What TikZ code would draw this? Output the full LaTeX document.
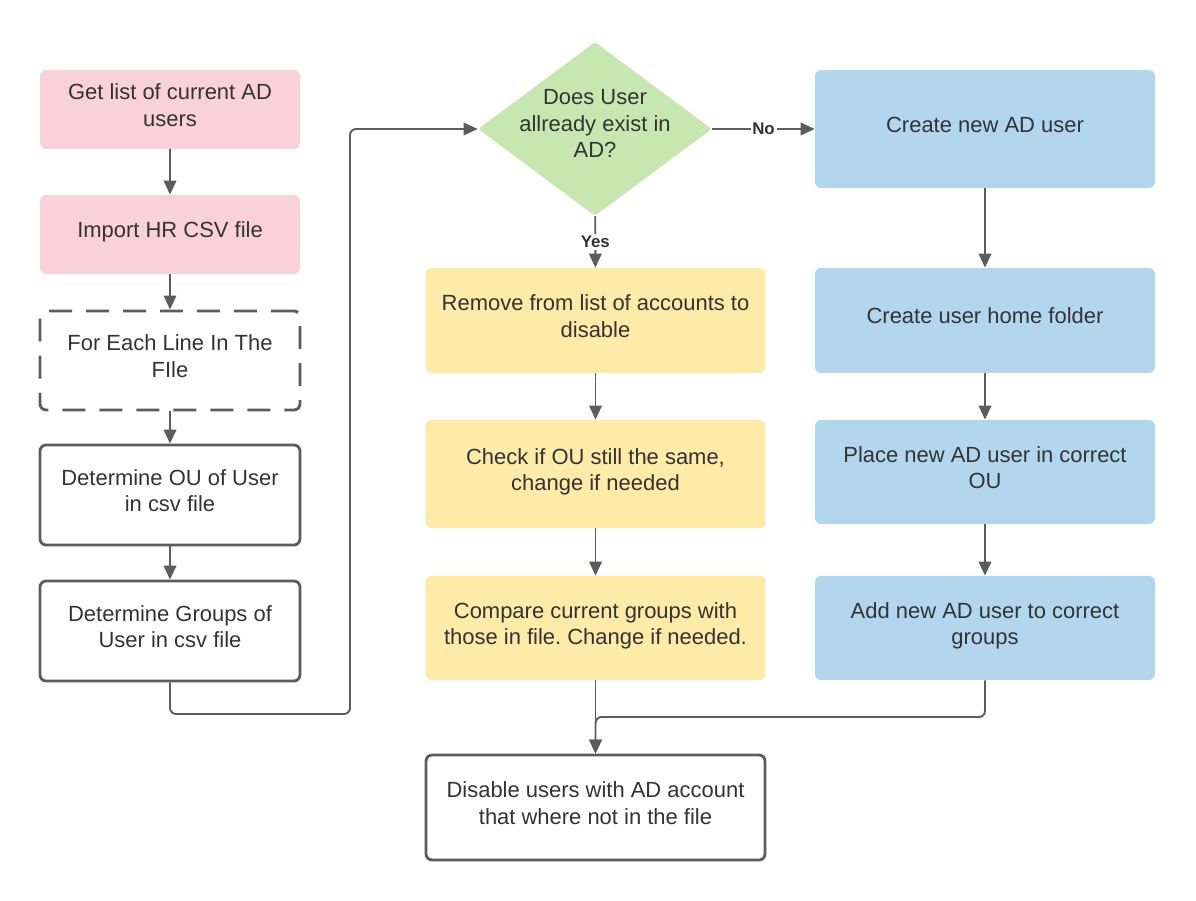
\documentclass[tikz,border=0pt]{standalone}
\usepackage{fontspec}
\setmainfont{Liberation Sans}
\frenchspacing
\usetikzlibrary{shapes.geometric,arrows.meta}
\definecolor{boxpink}{HTML}{F9D1DC}
\definecolor{boxgreen}{HTML}{C7E7B1}
\definecolor{boxblue}{HTML}{B3D6EF}
\definecolor{boxyellow}{HTML}{FEEBA7}
\definecolor{linegray}{HTML}{5C5C5C}
\definecolor{textgray}{HTML}{333333}
\begin{document}
\begin{tikzpicture}[x=0.02cm,y=-0.02cm,font=\fontsize{12.5}{15}\selectfont,text=textgray]
     \tikzstyle{basenode}=[rectangle, rounded corners=0.12cm, align=center, minimum width=5.2cm, minimum height=1.58cm, execute at end node={\rule[-0.18cm]{0pt}{0pt}}]
     \tikzstyle{pinknode}=[basenode, fill=boxpink]
     \tikzstyle{loopnode}=[basenode, draw=linegray, line width=1.6pt, dash pattern=on 0.46cm off 0.28cm, minimum height=1.98cm]
     \tikzstyle{stepnode}=[basenode, draw=linegray, line width=1.6pt, minimum height=2cm]
     \tikzstyle{yellownode}=[basenode, fill=boxyellow, minimum width=6.8cm, minimum height=2.1cm]
     \tikzstyle{bluenode}=[basenode, fill=boxblue, minimum width=6.8cm, minimum height=2.1cm]
     \tikzstyle{decnode}=[diamond, fill=boxgreen, rounded corners=0.06cm, minimum width=4.68cm, minimum height=3.48cm, inner sep=0pt]
     \tikzstyle{flow}=[draw=linegray, line width=1.1pt, -{Triangle[length=0.28cm,width=0.25cm]}]
     \tikzstyle{answer}=[fill=white, font=\bfseries\fontsize{9.6}{11}\selectfont, inner sep=1pt]
     \useasboundingbox (0,0) rectangle (1196,901);
     \node[pinknode] (getlist) at (170,109.5) {Get list of current AD\\users};
     \node[pinknode] (import) at (170,234.5) {Import HR CSV file};
     \node[loopnode] (foreach) at (170,360.5) {For Each Line In The\\FIle};
     \node[stepnode] (detou) at (170,495) {Determine OU of User\\in csv file};
     \node[stepnode] (detgroups) at (170,631) {Determine Groups of\\User in csv file};
     \node[decnode, label={[align=center,yshift=0.11cm]center:Does User\\allready exist in\\AD?}] (exists) at (595,129) {};
     \node[bluenode, minimum height=2.36cm] (create) at (985,129) {Create new AD user};
     \node[bluenode] (home) at (985,320.5) {Create user home folder};
     \node[bluenode, minimum height=2.08cm] (place) at (985,472) {Place new AD user in correct\\OU};
     \node[bluenode, minimum height=2.08cm] (addgroups) at (985,628) {Add new AD user to correct\\groups};
     \node[yellownode] (remove) at (595.5,320.5) {Remove from list of accounts to\\disable};
     \node[yellownode, minimum height=2.16cm] (checkou) at (595.5,474) {Check if OU still the same,\\change if needed};
     \node[yellownode, minimum height=2.08cm] (compare) at (595.5,628) {Compare current groups with\\those in file. Change if needed.};
     \node[stepnode, minimum width=6.78cm, minimum height=2.1cm] (disable) at (595.5,807.5) {Disable users with AD account\\that where not in the file};
     \coordinate (loopback) at (350,714);
     \coordinate (merge) at (595.5,717);
     \draw[flow] (getlist) -- (import);
     \draw[flow] (import) -- (foreach);
     \draw[flow] (foreach) -- (detou);
     \draw[flow] (detou) -- (detgroups);
     \draw[flow, rounded corners=0.12cm] (detgroups.south) |- (loopback) |- (exists.west);
     \draw[flow] (exists) -- node[answer] {No} (create);
     \draw[flow] (exists) -- node[answer] {Yes} (remove);
     \draw[flow] (create) -- (home);
     \draw[flow] (home) -- (place);
     \draw[flow] (place) -- (addgroups);
     \draw[flow] (remove) -- (checkou);
     \draw[flow] (checkou) -- (compare);
     \draw[flow] (compare) -- (disable);
     \draw[flow, rounded corners=0.12cm] (addgroups.south) |- (merge) -- (disable.north);
\end{tikzpicture}
\end{document}
